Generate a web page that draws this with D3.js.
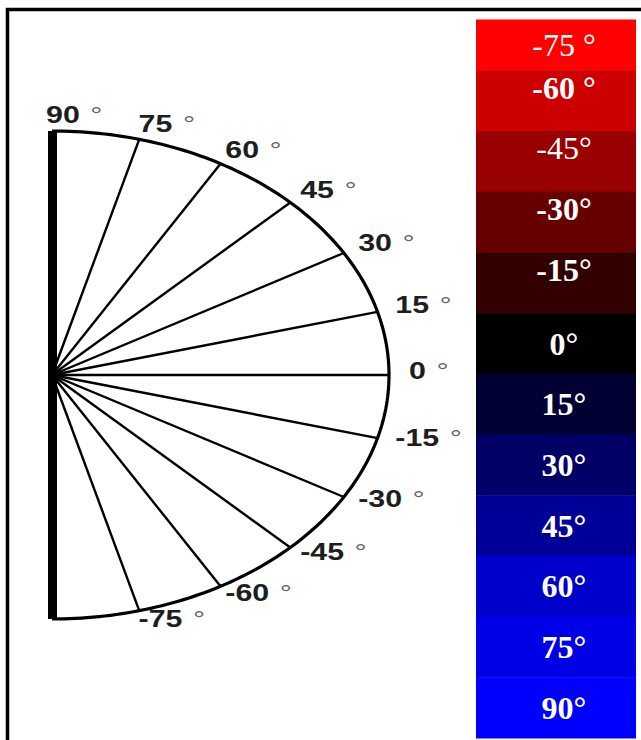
<!DOCTYPE html>
<html>
<head>
<meta charset="utf-8">
<script src="https://cdn.jsdelivr.net/npm/d3@7"></script>
<style>
  html, body { margin: 0; padding: 0; background: #fff; }
  svg { display: block; }
</style>
</head>
<body>
<div id="box"></div>
<script>
// angles of the fan spokes and their labels
const angles = [90, 75, 60, 45, 30, 15, 0, -15, -30, -45, -60, -75];
const tickLabels = ['90', '75', '60', '45', '30', '15', '0', '-15', '-30', '-45', '-60', '-75'];

// colour key
const keyLabels = ['-75 °', '-60 °', '-45°', '-30°', '-15°', '0°', '15°', '30°', '45°', '60°', '75°', '90°'];
const keyColors = ['#ff0000', '#cc0000', '#990000', '#660000', '#330000', '#000000',
                   '#000033', '#000066', '#000099', '#0000cc', '#0000e6', '#0000ff'];

const width = 641, height = 740;
const cx = 52, cy = 375, rx = 337, ry = 244;

const svg = d3.select('#box').append('svg')
   .attr('width', width)
   .attr('height', height);

// frame (only top and left edges show)
svg.append('rect')
   .attr('x', 7.5).attr('y', 9.5)
   .attr('width', width + 20).attr('height', height + 20)
   .style('fill', 'none')
   .style('stroke', 'black')
   .style('stroke-width', 3.5);

// ellipse scales: cos -> x, sin -> y
const rad = d => d * Math.PI / 180;
const xs = d3.scaleLinear().domain([0, 1]).range([cx, cx + rx]);
const ys = d3.scaleLinear().domain([-1, 1]).range([cy + ry, cy - ry]);

const fan = svg.append('g').attr('class', 'fan');

fan.selectAll('.spoke').data(angles.filter(a => Math.abs(a) < 90))
   .join('line')
   .attr('class', 'spoke')
   .attr('x1', xs(0)).attr('y1', ys(0))
   .attr('x2', d => xs(Math.cos(rad(d))))
   .attr('y2', d => ys(Math.sin(rad(d))))
   .style('stroke', 'black')
   .style('stroke-width', 2.4);

const arc = d3.line()
   .x(d => xs(Math.cos(rad(d))))
   .y(d => ys(Math.sin(rad(d))));

fan.append('path')
   .attr('d', arc(d3.range(-90, 90.5, 1)))
   .style('fill', 'none')
   .style('stroke', 'black')
   .style('stroke-width', 3.2);

// thick vertical bar (the +/-90 edge)
fan.append('line')
   .attr('x1', xs(0) + 0.5).attr('x2', xs(0) + 0.5)
   .attr('y1', ys(1)).attr('y2', ys(-1))
   .style('stroke', 'black')
   .style('stroke-width', 9);

// angle labels
const lab = fan.selectAll('.tick').data(angles)
   .join('text')
   .attr('class', 'tick')
   .attr('transform', d => {
      const c = Math.cos(rad(d)), s = Math.sin(rad(d));
      const x = cx + (rx + 20) * c - 6 * Math.abs(s);
      const y = cy - (ry + 12) * s - 4;
      return `translate(${x},${y}) scale(1.32,1)`;
   })
   .attr('dy', '0.36em')
   .style('font-family', '"Liberation Sans", Arial, sans-serif')
   .style('font-weight', 'bold')
   .style('font-size', '23px')
   .style('fill', '#1e1e1e');

lab.append('tspan').text((d, i) => tickLabels[i]);
lab.append('tspan')
   .attr('dx', 8)
   .style('font-weight', 'normal')
   .style('fill', '#666')
   .text('°');

// colour key
const keyTop = 19.5, keyBottom = 738, keyLeft = 476, keyRight = 636;
const band = d3.scaleBand()
   .domain(keyLabels)
   .range([9.6, keyBottom]);

const key = svg.append('g').attr('class', 'key');

key.selectAll('.swatch').data(keyLabels)
   .join('rect')
   .attr('class', 'swatch')
   .attr('x', keyLeft)
   .attr('width', keyRight - keyLeft)
   .attr('y', d => Math.max(band(d), keyTop))
   .attr('height', d => band(d) + band.bandwidth() - Math.max(band(d), keyTop) + 0.5)
   .style('fill', (d, i) => keyColors[i]);

key.selectAll('.keyText').data(keyLabels)
   .join('text')
   .attr('class', 'keyText')
   .attr('x', (keyLeft + keyRight) / 2 + 8)
   .attr('y', (d, i) => {
      const top = Math.max(band(d), keyTop), bot = band(d) + band.bandwidth();
      if (i > 0 && i < 5) return top + 17;
      return (top + bot) / 2;
   })
   .attr('dy', '0.35em')
   .attr('text-anchor', 'middle')
   .style('font-family', '"Liberation Serif", "Times New Roman", serif')
   .style('font-weight', (d, i) => (i === 0 || i === 2) ? 'normal' : 'bold')
   .style('font-size', '32px')
   .style('fill', 'white')
   .text(d => d);
</script>
</body>
</html>
